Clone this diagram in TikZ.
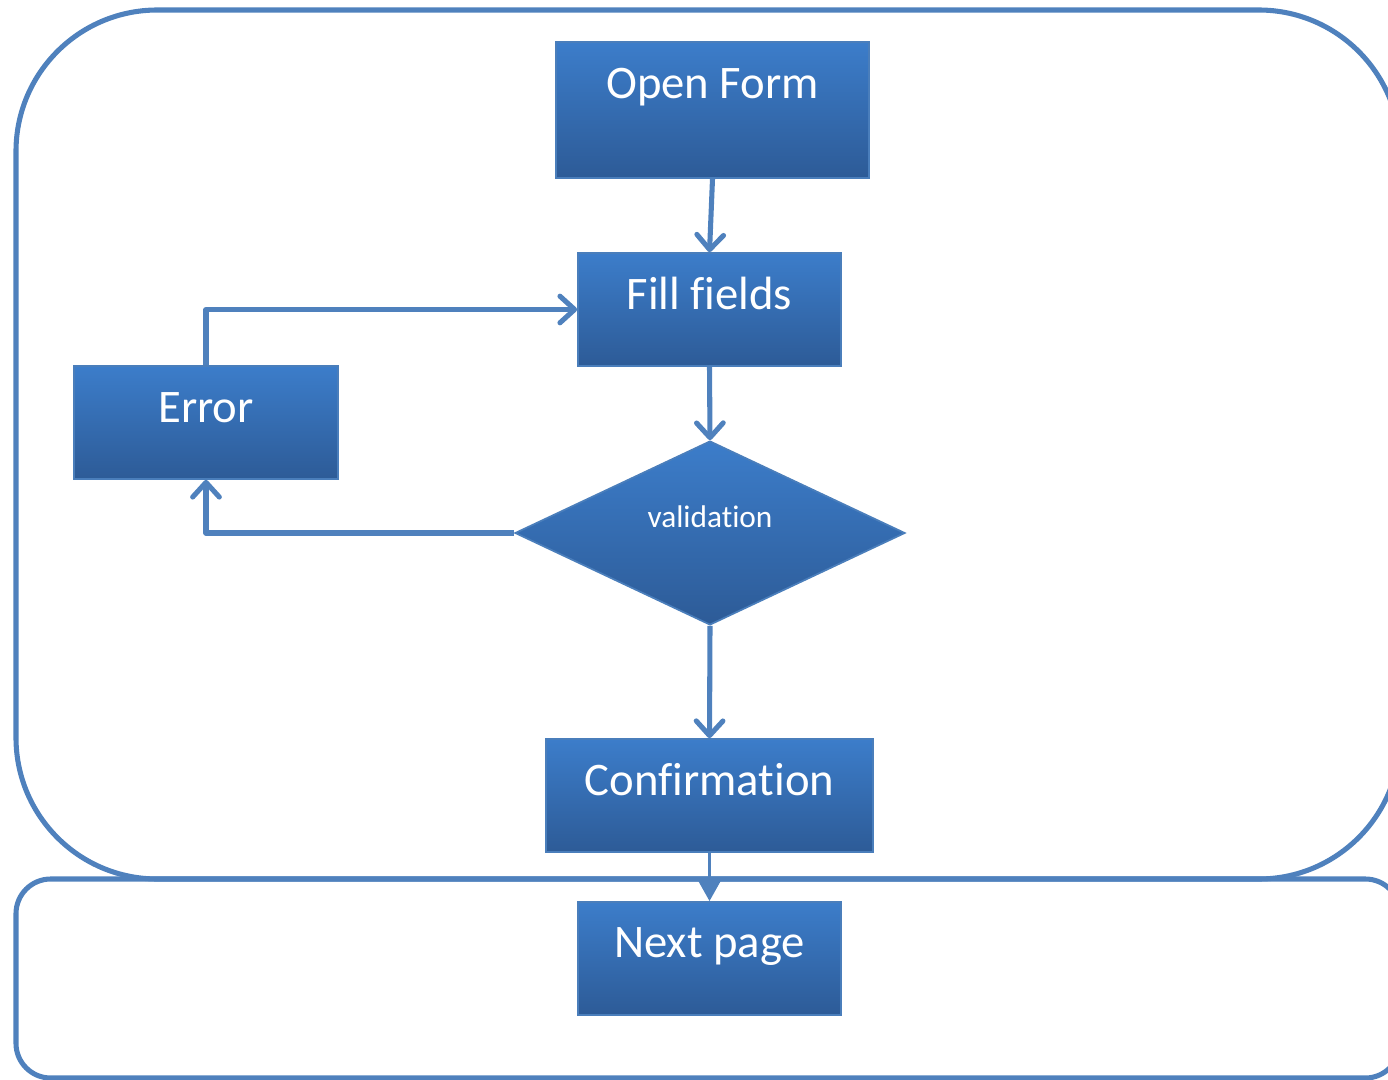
\documentclass[tikz,border=0pt]{standalone}
\usepackage{fontspec}
\setmainfont{Carlito}[Ligatures=NoCommon]
\usetikzlibrary{shapes.geometric,arrows.meta}
\definecolor{lineblue}{RGB}{79,129,189}
\definecolor{boxtop}{RGB}{60,125,202}
\definecolor{boxbot}{RGB}{45,91,151}
\definecolor{boxedge}{RGB}{74,126,187}
\begin{document}
\begin{tikzpicture}[x=0.75pt,y=-0.75pt,
  frame/.style={draw=lineblue, line width=3.8pt},
  box/.style={rectangle, draw=boxedge, line width=1.3pt, top color=boxtop, bottom color=boxbot, inner sep=0pt},
  decision/.style={diamond, draw=boxedge, line width=1.3pt, top color=boxtop, bottom color=boxbot, inner sep=0pt},
  lbl/.style={text=white, font=\fontsize{35}{42}\selectfont, anchor=base, inner sep=0pt},
  smalllbl/.style={text=white, font=\fontsize{23.5}{28}\selectfont, anchor=base, inner sep=0pt},
  conn/.style={draw=lineblue, line width=3.8pt, line join=round, -{Straight Barb[length=11pt,width=20pt,line cap=round,round]}},
  thinconn/.style={draw=lineblue, line width=2.6pt, -{Triangle[length=15pt,width=16pt]}}
]
\useasboundingbox (0,0) rectangle (1388,1080);
\begin{scope}
\clip (0,0) rectangle (1388,1080);
\draw[frame, rounded corners=106pt] (16,10) rectangle (1400,879);
\draw[frame, rounded corners=26pt] (16,879) rectangle (1400,1078);
\end{scope}

\node[box, minimum width=234.75pt, minimum height=102pt] (open) at (712.5,110) {};
\node[lbl] (topen) at (712.5,99) {Open Form};

\node[box, minimum width=197.25pt, minimum height=84.75pt] (fill) at (709.5,309.5) {};
\node[lbl] (tfill) at (709.5,310) {Fill f\kern0pt ields};

\node[box, minimum width=198pt, minimum height=84.75pt] (err) at (206,422.5) {};
\node[lbl] (terr) at (206,422) {Error};

\node[decision, minimum width=292.5pt, minimum height=138pt] (val) at (710,533) {};
\node[smalllbl] (tval) at (710,527) {validation};

\node[box, minimum width=245.25pt, minimum height=84.75pt] (conf) at (709.5,795.5) {};
\node[lbl] (tconf) at (709.5,795) {Conf\kern0pt irmation};

\node[box, minimum width=197.25pt, minimum height=84.75pt] (next) at (709.5,958.5) {};
\node[lbl] (tnext) at (709.5,957) {Next page};

\draw[conn] (open.south) -- (fill.north);
\draw[conn] (fill.south) -- (val.north);
\draw[conn] (val.south) -- (conf.north);
\draw[conn] (val.west) -| (err.south);
\draw[conn] (err.north) |- (fill.west);
\draw[thinconn] (conf.south) -- (next.north);
\end{tikzpicture}
\end{document}
